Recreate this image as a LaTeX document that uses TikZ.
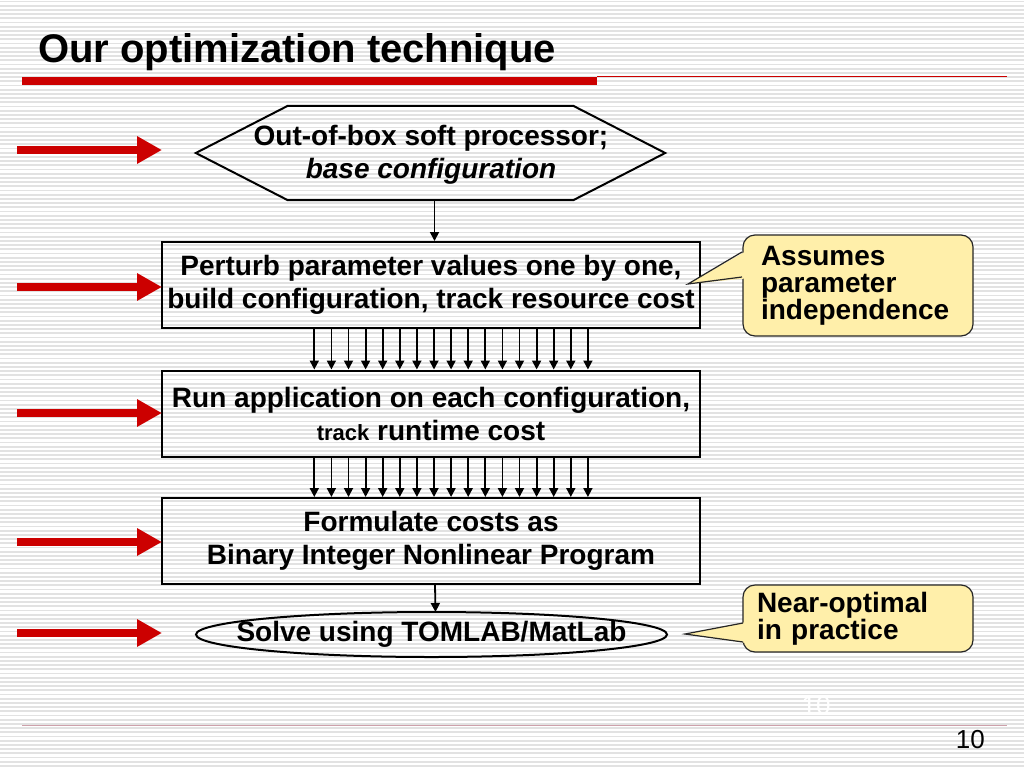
\documentclass[tikz,border=0pt]{standalone}
\usepackage{fontspec}
\setmainfont{Liberation Sans}
\usetikzlibrary{arrows.meta,calc}
\definecolor{slidered}{RGB}{204,0,0}
\definecolor{calloutfill}{RGB}{255,239,170}
\definecolor{stripegray}{RGB}{226,226,226}
\definecolor{footline}{RGB}{205,160,170}
\begin{document}
\begin{tikzpicture}[x=1pt,y=-1pt,
  stripe/.style={stripegray,line width=1.7pt},
  flowbox/.style={draw,line width=2pt,rectangle,minimum width=538pt,minimum height=86pt,inner xsep=2pt,inner ysep=0pt,align=center,font=\fontsize{28}{33}\selectfont\bfseries},
  flowtext/.style={align=center,inner sep=0pt,font=\fontsize{28}{33}\selectfont\bfseries},
  arr/.style={line width=1.8pt,-{Triangle[length=9pt,width=9pt]}},
  redarr/.style={slidered,line width=8pt,-{Triangle[length=25pt,width=26pt]}},
  callout/.style={draw=black!85,line width=1.2pt,fill=calloutfill,rounded corners=12pt,align=left,font=\fontsize{28}{27}\selectfont\bfseries},
  pointeredge/.style={black!85,line width=1.2pt,line join=miter}
]
\useasboundingbox (0,0) rectangle (1024,768);
\fill[white] (0,0) rectangle (1024,768);
\foreach \k in {0,...,183} \draw[stripe] (0,{\k*4.2+1.5}) -- (1024,{\k*4.2+1.5});

% title and rules
\node[anchor=base west,inner sep=0pt,font=\fontsize{40}{48}\selectfont\bfseries] (title) at (38,63) {Our optimization technique};
\fill[slidered] (22,77) rectangle (597,84.5);
\draw[slidered,line width=1.3pt] (597,76.5) -- (1007,76.5);
\draw[footline,line width=1pt] (22,725) -- (1007,725);
\node[anchor=base east,inner sep=0pt,font=\fontsize{26}{30}\selectfont] (pg) at (985,748) {10};
\node[white,inner sep=0pt,font=\fontsize{26}{30}\selectfont] (ghost) at (816,706) {10};

% hexagon
\node[minimum width=469pt,minimum height=94pt,inner sep=0pt] (hex) at (430.5,153) {};
\draw[line width=2pt,line join=miter] (hex.west) -- ([xshift=92pt]hex.north west) -- ([xshift=-92pt]hex.north east) -- (hex.east) -- ([xshift=-92pt]hex.south east) -- ([xshift=92pt]hex.south west) -- cycle;
\node[flowtext] (hextext) at (431,155) {Out-of-box soft processor;\\\textit{base configuration}};

% boxes
\node[flowbox] (box1) at (431,285) {Perturb parameter values one by one,\\build configuration, track resource cost};
\node[flowbox] (box2) at (431,413.5) {Run application on each configuration,\\{\fontsize{22}{33}\selectfont track} runtime cost};
\node[flowbox] (box3) at (431,541) {Formulate costs as\\Binary Integer Nonlinear Program};

% ellipse
\node[flowtext] (solve) at (431.5,634.5) {Solve using TOMLAB/MatLab};
\draw[line width=2pt] (solve.center) ellipse [x radius=235.5, y radius=22.5];
\coordinate (solvetop) at ($(solve.center)+(4,-22.5)$);

% connectors
\draw[arr] ([xshift=4pt]hex.south) -- ([xshift=4pt]hex.south |- box1.north);
\foreach \i in {0,...,16} {
  \draw[arr] ([xshift={153.3+17.1*\i}]box1.south west) -- ([xshift={153.3+17.1*\i}]box2.north west);
  \draw[arr] ([xshift={153.3+17.1*\i}]box2.south west) -- ([xshift={153.3+17.1*\i}]box3.north west);
}
\draw[arr] ([xshift=4pt]box3.south) -- (solvetop);

% red arrows
\foreach \yy/\xe [count=\n] in {150/162,287/162,413/162,542/162,633/162} {
  \coordinate (rs\n) at (17,\yy);
  \coordinate (re\n) at (\xe,\yy);
  \draw[redarr] (rs\n) -- (re\n);
}

% callout 1
\node[callout,text width=194pt,inner xsep=18pt,minimum height=101pt] (c1) at (858,285.5) {Assumes\\parameter\\independence};
\coordinate (p1) at (688,284);
\fill[calloutfill] (745.5,251.5) -- (p1) -- (745.5,278.5) -- cycle;
\draw[pointeredge] (742,252) -- (p1) -- (742,277);

% callout 2
\node[callout,text width=202pt,inner xsep=14pt,minimum height=67pt] (c2) at (858,618.5) {Near-optimal\\in practice};
\coordinate (p2) at (685,634);
\fill[calloutfill] (746.5,622) -- (p2) -- (746.5,643) -- cycle;
\draw[pointeredge] (743,623) -- (p2) -- (743,642);
\end{tikzpicture}
\end{document}
